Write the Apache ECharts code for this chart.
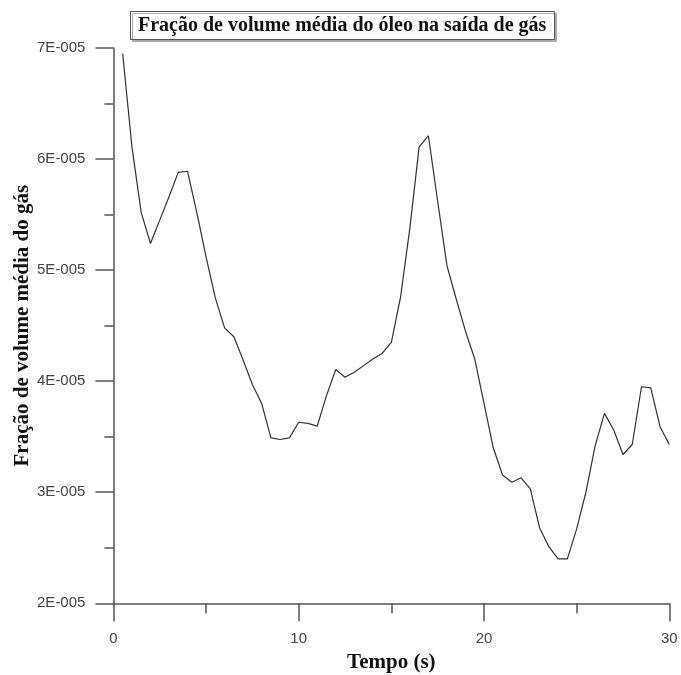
<!DOCTYPE html>
<html>
<head>
<meta charset="utf-8">
<script src="https://cdn.jsdelivr.net/npm/echarts@6/dist/echarts.min.js"></script>
<style>
  html, body { margin: 0; padding: 0; background: #fff; }
  #chart { width: 681px; height: 675px; }
</style>
</head>
<body>
<div id="chart"></div>
<script>
// Time samples (s)
const tempo = [
  0.5, 1.0, 1.5, 2.0, 2.5, 3.0, 3.5, 4.0, 4.5, 5.0,
  5.5, 6.0, 6.5, 7.0, 7.5, 8.0, 8.5, 9.0, 9.5, 10.0,
  10.5, 11.0, 11.5, 12.0, 12.5, 13.0, 13.5, 14.0, 14.5, 15.0,
  15.5, 16.0, 16.5, 17.0, 17.5, 18.0, 18.5, 19.0, 19.5, 20.0,
  20.5, 21.0, 21.5, 22.0, 22.5, 23.0, 23.5, 24.0, 24.5, 25.0,
  25.5, 26.0, 26.5, 27.0, 27.5, 28.0, 28.5, 29.0, 29.5, 30.0
];

// Mean oil volume fraction at the gas outlet
const fracaoOleo = [
  6.95e-5, 6.11e-5, 5.52e-5, 5.24e-5, 5.45e-5, 5.66e-5, 5.88e-5, 5.89e-5, 5.52e-5, 5.12e-5,
  4.75e-5, 4.48e-5, 4.40e-5, 4.19e-5, 3.97e-5, 3.80e-5, 3.49e-5, 3.475e-5, 3.49e-5, 3.63e-5,
  3.62e-5, 3.595e-5, 3.87e-5, 4.105e-5, 4.035e-5, 4.08e-5, 4.14e-5, 4.20e-5, 4.25e-5, 4.35e-5,
  4.76e-5, 5.38e-5, 6.11e-5, 6.21e-5, 5.62e-5, 5.04e-5, 4.74e-5, 4.45e-5, 4.20e-5, 3.80e-5,
  3.40e-5, 3.155e-5, 3.09e-5, 3.13e-5, 3.03e-5, 2.68e-5, 2.51e-5, 2.40e-5, 2.40e-5, 2.67e-5,
  3.00e-5, 3.42e-5, 3.71e-5, 3.56e-5, 3.34e-5, 3.43e-5, 3.95e-5, 3.94e-5, 3.59e-5, 3.43e-5
];

// Axis ranges and labels
const xTicks = [0, 10, 20, 30];
const yTickLabels = ['2E-005', '3E-005', '4E-005', '5E-005', '6E-005', '7E-005'];

const serifBold = { fontFamily: '"Liberation Serif", "DejaVu Serif", serif', fontWeight: 'bold', color: '#111' };
const sansLabel = { fontFamily: '"Liberation Sans", Arial, sans-serif', fontSize: 15, color: '#444' };

const points = tempo.map((t, i) => [t, fracaoOleo[i]]);

const chart = echarts.init(document.getElementById('chart'), null, { renderer: 'canvas' });

chart.setOption({
  backgroundColor: '#fff',
  animation: false,
  title: {
    text: 'Fração de volume média do óleo na saída de gás',
    left: 130,
    top: 11,
    padding: [4, 8, 4, 8],
    borderColor: '#555',
    borderWidth: 1,
    backgroundColor: '#fff',
    shadowColor: '#aaa',
    shadowOffsetX: 2,
    shadowOffsetY: 2,
    shadowBlur: 0,
    textStyle: Object.assign({ fontSize: 20, lineHeight: 21 }, serifBold)
  },
  grid: {
    left: 113.4, right: 11.7, top: 48, bottom: 71.7,
    containLabel: false,
    outerBoundsMode: 'none'
  },
  xAxis: {
    type: 'value',
    min: xTicks[0],
    max: xTicks[xTicks.length - 1],
    interval: 10,
    name: 'Tempo (s)',
    nameLocation: 'middle',
    nameGap: 49,
    nameMoveOverlap: false,
    nameTextStyle: Object.assign({ fontSize: 21 }, serifBold),
    axisLine: { show: true, onZero: false, lineStyle: { color: '#555', width: 1.5 } },
    axisTick: { show: true, inside: false, length: 18, lineStyle: { color: '#555', width: 1.5 } },
    minorTick: { show: true, splitNumber: 2, length: 10, lineStyle: { color: '#555', width: 1.5 } },
    axisLabel: Object.assign({ margin: 28, showMinLabel: true, showMaxLabel: true }, sansLabel),
    splitLine: { show: false }
  },
  yAxis: {
    type: 'value',
    min: 2e-5,
    max: 7e-5,
    interval: 1e-5,
    name: 'Fração de volume média do gás',
    nameLocation: 'middle',
    nameGap: 80,
    nameMoveOverlap: false,
    nameTextStyle: Object.assign({ fontSize: 21 }, serifBold),
    axisLine: { show: true, onZero: false, lineStyle: { color: '#555', width: 1.5 } },
    axisTick: { show: true, inside: false, length: 18, lineStyle: { color: '#555', width: 1.5 } },
    minorTick: { show: true, splitNumber: 2, length: 9, lineStyle: { color: '#555', width: 1.5 } },
    axisLabel: Object.assign({
      margin: 28,
      showMinLabel: true,
      showMaxLabel: true,
      formatter: function (v) {
        const idx = Math.round(v * 1e5) - 2;
        return yTickLabels[idx] !== undefined ? yTickLabels[idx] : '';
      }
    }, sansLabel),
    splitLine: { show: false }
  },
  series: [{
    type: 'line',
    data: points,
    showSymbol: false,
    symbol: 'none',
    lineStyle: { color: '#333', width: 1.2 },
    clip: false
  }]
});
</script>
</body>
</html>
